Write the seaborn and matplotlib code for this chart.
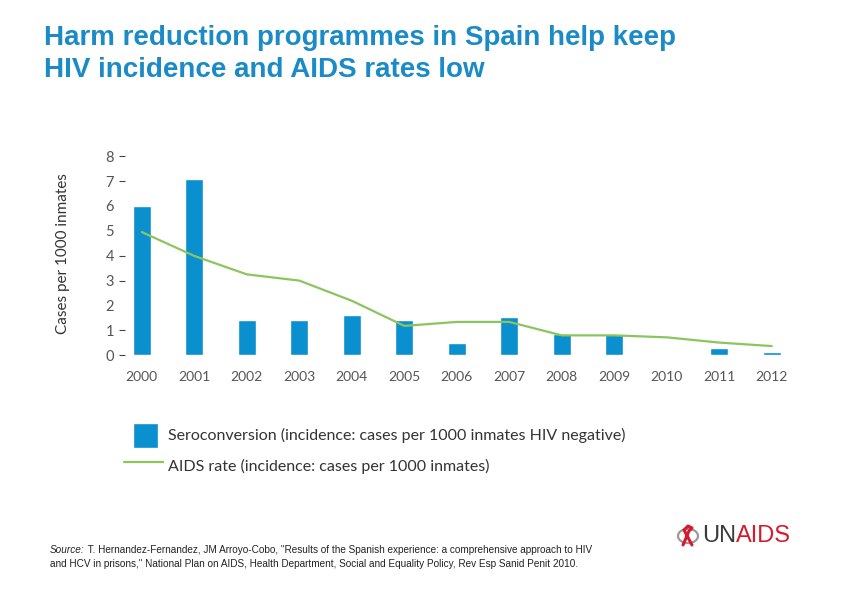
import numpy as np
import pandas as pd
import matplotlib.pyplot as plt
import seaborn as sns
from matplotlib.patches import Rectangle, Circle
from matplotlib.lines import Line2D
from matplotlib.legend_handler import HandlerPatch

# chart data
years = ['2000', '2001', '2002', '2003', '2004', '2005', '2006',
         '2007', '2008', '2009', '2010', '2011', '2012']
seroconversion = [6.0, 7.1, 1.4, 1.42, 1.62, 1.42, 0.49,
                  1.54, 0.84, 0.84, 0.0, 0.29, 0.15]
aids_rate = [4.95, 3.99, 3.25, 3.0, 2.19, 1.18, 1.34,
             1.34, 0.8, 0.8, 0.72, 0.51, 0.37]
dash_ticks = [0, 1, 3, 4, 7, 8]     # labels with a tick dash
plain_ticks = [2, 5, 6]             # labels without one

title = 'Harm reduction programmes in Spain help keep\nHIV incidence and AIDS rates low'
sero_label = 'Seroconversion (incidence: cases per 1000 inmates HIV negative)'
aids_label = 'AIDS rate (incidence: cases per 1000 inmates)'
source_rest = (' T. Hernandez-Fernandez, JM Arroyo-Cobo, "Results of the Spanish experience: '
               'a comprehensive approach to HIV')
source_line2 = ('and HCV in prisons," National Plan on AIDS, Health Department, '
                'Social and Equality Policy, Rev Esp Sanid Penit 2010.')

BLUE = '#0a8fcf'
GREEN = '#8cc45e'
TITLE_BLUE = '#1a8bc7'
GREY = '#555555'

sns.set_style('white')
plt.rcParams['font.family'] = ['Lato', 'DejaVu Sans']

df = pd.DataFrame({'year': years, 'sero': seroconversion, 'aids': aids_rate})


def square_patch(legend, orig_handle, xdescent, ydescent, width, height, fontsize):
    # square marker sitting a little to the right inside the handle box
    return Rectangle((-xdescent + width * 0.23, -ydescent), height, height)


def main():
    fig = plt.figure(figsize=(8.42, 5.95), dpi=100)
    ax = fig.add_axes([0.1485, 0.4029, 0.788, 0.3347])

    sns.barplot(data=df, x='year', y='sero', color=BLUE, width=0.34,
                saturation=1, ax=ax)
    sns.lineplot(x=np.arange(len(years)), y=df['aids'], color=GREEN,
                 linewidth=1.6, ax=ax)

    ax.set_xlim(-0.32, len(years) - 1 + 0.32)
    ax.set_ylim(0, 8)
    ax.set_yticks(dash_ticks)
    ax.set_yticklabels([str(t) for t in dash_ticks])
    ax.set_yticks(plain_ticks, minor=True)
    ax.set_yticklabels([str(t) for t in plain_ticks], minor=True)
    ax.tick_params(axis='y', which='major', left=True, length=4, width=0.8,
                   color='#444444', pad=4, labelsize=10.5, labelcolor=GREY)
    ax.tick_params(axis='y', which='minor', left=True, length=0,
                   pad=8, labelsize=10.5, labelcolor=GREY)
    ax.tick_params(axis='x', length=0, pad=11, labelsize=10, labelcolor=GREY)
    ax.set_xlabel('')
    ax.set_ylabel('Cases per 1000 inmates', fontsize=11, color='#333333')
    ax.yaxis.set_label_coords(-0.083, 0.51)
    sns.despine(ax=ax, left=True, bottom=True)

    # title
    fig.text(44 / 842, 1 - 25 / 595, title, ha='left', va='top',
             family='Liberation Sans', fontweight='bold', fontsize=20,
             color=TITLE_BLUE, linespacing=1.3)

    # legend
    handles = [Rectangle((0, 0), 1, 1, facecolor=BLUE),
               Line2D([0], [0], color=GREEN, linewidth=1.6)]
    fig.legend(handles, [sero_label, aids_label], loc='upper left',
               bbox_to_anchor=(124 / 842, 1 - 423 / 595),
               bbox_transform=fig.transFigure, frameon=False,
               fontsize=11.5, labelcolor='#333333',
               handlelength=2.45, handleheight=2.0, handletextpad=0.3,
               labelspacing=0.35, borderpad=0, borderaxespad=0,
               handler_map={Rectangle: HandlerPatch(patch_func=square_patch)})

    # source note
    narrow = ['Liberation Sans Narrow', 'Liberation Sans']
    t1 = fig.text(50 / 842, 1 - 553 / 595, 'Source:', family=narrow,
                  style='italic', fontsize=7.2, color='#222222', va='baseline')
    ax.annotate(source_rest, xy=(1, 0), xycoords=t1, va='bottom', ha='left',
                family=narrow, fontsize=7.2, color='#222222', annotation_clip=False)
    fig.text(50 / 842, 1 - 567 / 595, source_line2, family=narrow, fontsize=7.2,
             color='#222222', va='baseline')

    # UNAIDS logo
    fig.patches.append(Circle((688 / 842, 1 - 536 / 595), 10 / 842,
                              transform=fig.transFigure, facecolor='none',
                              edgecolor='#9a9a9a', linewidth=1.6))
    fig.lines.append(Line2D([683 / 842, 689 / 842, 692 / 842, 688 / 842, 684 / 842, 692 / 842],
                            [1 - 545 / 595, 1 - 531 / 595, 1 - 528 / 595,
                             1 - 526 / 595, 1 - 530 / 595, 1 - 545 / 595],
                            transform=fig.transFigure, color='#d7192d', linewidth=2.2))
    t_un = fig.text(702 / 842, 1 - 536 / 595, 'UN', family=narrow, fontsize=17,
                    color='#3a3a3a', va='center', ha='left')
    ax.annotate('AIDS', xy=(1, 0.5), xycoords=t_un, va='center', ha='left',
                family=narrow, fontsize=17, color='#d7192d', annotation_clip=False)

    fig.savefig('out.png', dpi=100)


if __name__ == "__main__":
    main()
